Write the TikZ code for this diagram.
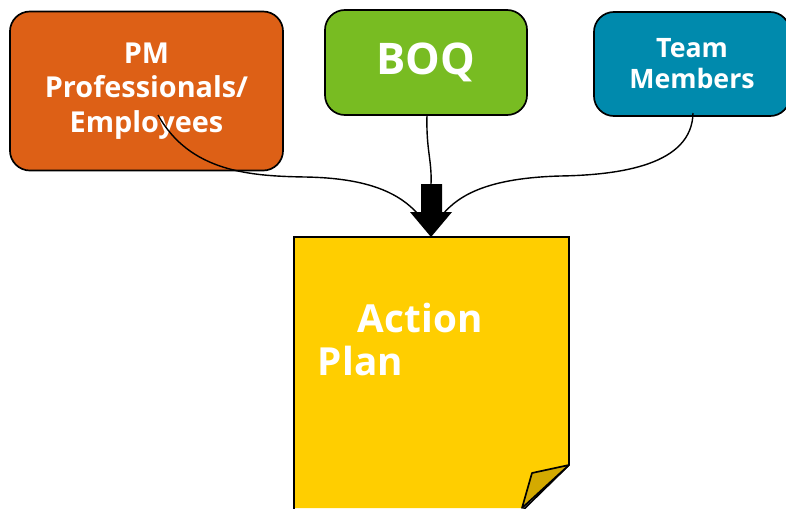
\documentclass[tikz,border=0pt]{standalone}
\usepackage{fontspec}
\setmainfont{Open Sans}
\usetikzlibrary{positioning}
\definecolor{pmorange}{RGB}{221,96,22}
\definecolor{boqgreen}{RGB}{120,188,34}
\definecolor{teamteal}{RGB}{0,138,173}
\definecolor{noteyellow}{RGB}{255,206,0}
\definecolor{notefold}{RGB}{212,170,0}

\begin{document}
\begin{tikzpicture}[
    x=0.025cm, y=-0.025cm,
    srcbox/.style={draw=black, line width=1.2pt, rounded corners=0.5cm, text=white,
        font=\bfseries, align=center, inner sep=0pt},
    link/.style={line width=1pt},
]
    \useasboundingbox (0,0) rectangle (786,508);

    % the three inputs
    \node[srcbox, fill=pmorange, minimum width=6.825cm, minimum height=3.975cm,
        font=\fontsize{20.5}{24.5}\selectfont\bfseries] (pm) at (146.5,91)
        {PM\\Professionals/\\Employees};
    \node[srcbox, fill=boqgreen, minimum width=5.05cm, minimum height=2.625cm,
        font=\fontsize{31}{34}\selectfont\bfseries] (boq) at (426,62.5) {BOQ};
    \node[srcbox, fill=teamteal, minimum width=4.9cm, minimum height=2.6cm,
        font=\fontsize{19}{22}\selectfont\bfseries] (team) at (692,64) {Team\\Members};

    % action plan sheet with folded corner
    \fill[noteyellow] (294,237) -- (569,237) -- (569,465) -- (523,508) -- (294,508) -- cycle;
    \draw[line width=1.2pt] (294,510) -- (294,237) -- (569,237) -- (569,465) -- (523,510);
    \filldraw[fill=notefold, line width=1.2pt, line join=round]
        (569,465) -- (532,473) -- (522,508) -- cycle;
    \coordinate (plantop) at (431,237);
    \node[text=white, font=\fontsize{27.5}{32}\selectfont\bfseries, anchor=west] (act) at (353,318) {Action};
    \node[text=white, font=\fontsize{27.5}{32}\selectfont\bfseries, anchor=west] (plan) at (313,361) {Plan};

    % block arrow into the sheet
    \coordinate (shaft) at (431,184);
    \fill[black] (421,184) -- (442,184) -- (442,212) -- (452,212) -- (plantop)
        -- (410,212) -- (421,212) -- cycle;

    % connectors
    \coordinate (pmout) at (158,115);
    \coordinate (teamout) at (693,113);
    \coordinate (boqout) at (427,115);
    \coordinate (lin) at (418,214);
    \coordinate (rin) at (443,214);
    \draw[link] (pmout) .. controls (190,172) and (250,176) .. (305,177)
        .. controls (370,178) and (400,194) .. (lin);
    \draw[link] (teamout) .. controls (692,165) and (620,175) .. (560,176)
        .. controls (490,178) and (460,194) .. (rin);
    \draw[link] (boqout) .. controls (426,150) and (432,160) .. (shaft);
\end{tikzpicture}
\end{document}
